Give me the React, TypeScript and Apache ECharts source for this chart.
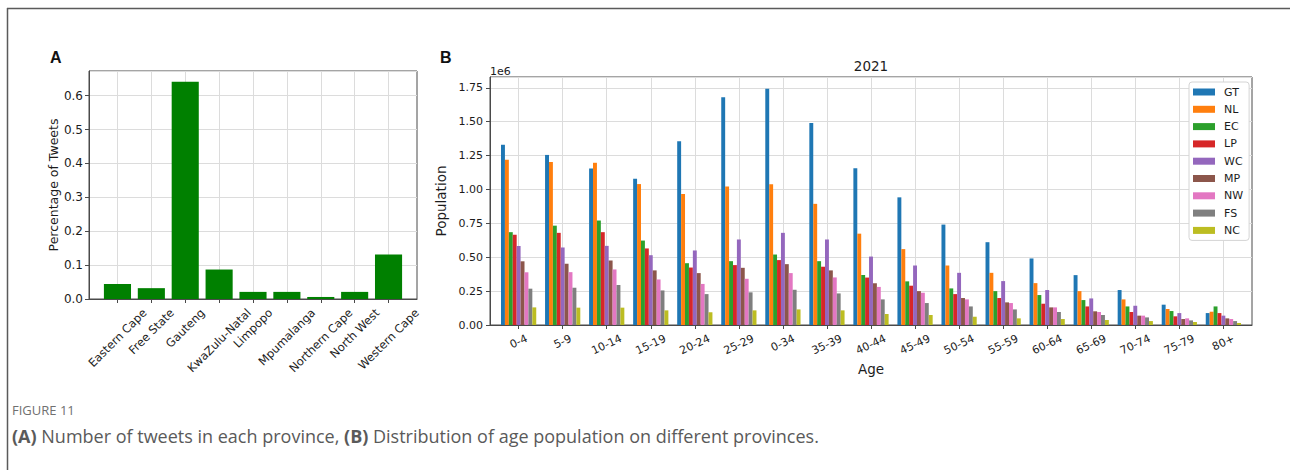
import React, { useEffect, useRef } from "react";
import * as echarts from "echarts";

// Panel A: share of tweets per province
const provinces = [
  "Eastern Cape",
  "Free State",
  "Gauteng",
  "KwaZulu-Natal",
  "Limpopo",
  "Mpumalanga",
  "Northern Cape",
  "North West",
  "Western Cape",
];
const tweetShare = [0.044, 0.032, 0.641, 0.087, 0.021, 0.021, 0.006, 0.021, 0.131];

// Panel B: 2021 population by age group and province
const ageGroups = [
  "0-4", "5-9", "10-14", "15-19", "20-24", "25-29", "0-34", "35-39", "40-44",
  "45-49", "50-54", "55-59", "60-64", "65-69", "70-74", "75-79", "80+",
];
const provinceCodes = ["GT", "NL", "EC", "LP", "WC", "MP", "NW", "FS", "NC"];
const popGT = [1330000, 1255000, 1155000, 1080000, 1355000, 1680000, 1743000, 1490000, 1157000, 942000, 741000, 611000, 491000, 368000, 258000, 150000, 88000];
const popNL = [1220000, 1203000, 1197000, 1040000, 966000, 1022000, 1038000, 894000, 674000, 560000, 439000, 385000, 309000, 250000, 189000, 118000, 98000];
const popEC = [685000, 733000, 771000, 623000, 456000, 471000, 520000, 471000, 369000, 322000, 270000, 250000, 221000, 184000, 137000, 103000, 137000];
const popLP = [666000, 680000, 685000, 565000, 424000, 442000, 479000, 430000, 350000, 290000, 228000, 199000, 157000, 137000, 96000, 64000, 88000];
const popWC = [583000, 572000, 584000, 515000, 550000, 631000, 680000, 631000, 505000, 439000, 385000, 324000, 258000, 196000, 142000, 88000, 69000];
const popMP = [470000, 452000, 476000, 403000, 383000, 422000, 449000, 403000, 308000, 250000, 199000, 167000, 130000, 101000, 69000, 44000, 49000];
const popNW = [389000, 390000, 410000, 336000, 303000, 341000, 383000, 351000, 281000, 238000, 189000, 162000, 130000, 96000, 69000, 49000, 44000];
const popFS = [268000, 275000, 295000, 255000, 228000, 241000, 260000, 233000, 189000, 162000, 137000, 115000, 96000, 74000, 56000, 34000, 29000];
const popNC = [130000, 128000, 128000, 108000, 94000, 108000, 115000, 108000, 81000, 74000, 61000, 49000, 44000, 37000, 29000, 22000, 15000];
const populations = [popGT, popNL, popEC, popLP, popWC, popMP, popNW, popFS, popNC];
const provinceColors = ["#1f77b4", "#ff7f0e", "#2ca02c", "#d62728", "#9467bd", "#8c564b", "#e377c2", "#7f7f7f", "#bcbd22"];

const FONT = "'DejaVu Sans', sans-serif";
const TEXT = "#1c1c1c";
const GRIDLINE = "#dcdcdc";
const SPINE = "#4a4a4a";

const A_MIN = -0.84;
const A_MAX = 8.84;
const B_MIN = -0.65;
const B_MAX = 16.65;

function textWidth(text: string, size: number): number {
  const ctx = document.createElement("canvas").getContext("2d");
  if (!ctx) return text.length * size * 0.6;
  ctx.font = `${size}px 'DejaVu Sans'`;
  return ctx.measureText(text).width;
}

// Rotated tick labels: each label's bounding box is centred under its tick
// with its top edge a fixed distance below the axis line.
function rotatedRich(labels: string[], size: number, deg: number, pad: number, margin: number) {
  const th = (deg * Math.PI) / 180;
  const h = size * 1.17;
  const rich: Record<string, any> = {};
  labels.forEach((t, i) => {
    const L = textWidth(t, size);
    const H = L * Math.sin(th) + h * Math.cos(th);
    const d = Math.max(0, pad + H / 2 - margin);
    rich["t" + i] = {
      fontFamily: FONT,
      fontSize: size,
      color: TEXT,
      lineHeight: h,
      padding: [2 * d * Math.cos(th), 2 * d * Math.sin(th), 0, 0],
    };
  });
  return rich;
}

// Category label for an integer position; blank for the padding slots at the axis ends.
function categoryLabel(labels: string[]) {
  return (v: number) => {
    const i = Math.round(v);
    if (Math.abs(v - i) > 0.01 || i < 0 || i >= labels.length) return "";
    return `{t${i}|${labels[i]}}`;
  };
}

function buildOption() {
  const idxA = provinces.map((_, i) => i);
  const idxB = ageGroups.map((_, i) => i);
  const tickStyle = { show: true, length: 4, lineStyle: { color: SPINE, width: 1 } };
  const lineStyle = { show: true, onZero: false, lineStyle: { color: SPINE, width: 1 } };
  const split = { show: true, lineStyle: { color: GRIDLINE, width: 1 } };

  return {
    animation: false,
    backgroundColor: "#ffffff",
    textStyle: { fontFamily: FONT },
    title: {
      text: "2021",
      left: 871,
      top: 59,
      padding: 0,
      textAlign: "center",
      textStyle: { fontFamily: FONT, fontSize: 13.5, fontWeight: "normal", color: TEXT },
    },
    legend: {
      data: provinceCodes,
      orient: "vertical",
      left: 1189,
      top: 82,
      icon: "rect",
      itemWidth: 22,
      itemHeight: 7,
      itemGap: 3.3,
      padding: [3, 6, 3, 4],
      backgroundColor: "#ffffff",
      borderColor: "#d4d4d4",
      borderWidth: 1,
      borderRadius: 3,
      textStyle: { fontFamily: FONT, fontSize: 11, color: TEXT, lineHeight: 14, padding: [0, 0, 0, 4] },
    },
    grid: [
      { left: 89, top: 71, width: 328, height: 228, show: true, borderColor: SPINE, borderWidth: 1, backgroundColor: "transparent", outerBoundsMode: "none" },
      { left: 490, top: 77, width: 762, height: 248, show: true, borderColor: SPINE, borderWidth: 1, backgroundColor: "transparent", outerBoundsMode: "none" },
    ],
    xAxis: [
      {
        gridIndex: 0,
        type: "value",
        min: A_MIN,
        max: A_MAX,
        axisLine: lineStyle,
        axisTick: { ...tickStyle, customValues: idxA },
        splitLine: split,
        axisLabel: {
          customValues: [A_MIN, ...idxA, A_MAX],
          showMinLabel: true,
          showMaxLabel: true,
          hideOverlap: false,
          rotate: 45,
          align: "center",
          verticalAlign: "middle",
          margin: 6,
          formatter: categoryLabel(provinces),
          rich: rotatedRich(provinces, 11.5, 45, 7, 6),
        },
      },
      {
        gridIndex: 1,
        type: "value",
        min: B_MIN,
        max: B_MAX,
        name: "Age",
        nameLocation: "middle",
        nameGap: 35,
        nameTextStyle: { fontFamily: FONT, fontSize: 13.5, color: TEXT, verticalAlign: "top" },
        axisLine: lineStyle,
        axisTick: { ...tickStyle, customValues: idxB },
        splitLine: split,
        axisLabel: {
          customValues: [B_MIN, ...idxB, B_MAX],
          showMinLabel: true,
          showMaxLabel: true,
          hideOverlap: false,
          rotate: 25,
          align: "center",
          verticalAlign: "middle",
          margin: 6,
          formatter: categoryLabel(ageGroups),
          rich: rotatedRich(ageGroups, 11, 25, 7, 6),
        },
      },
    ],
    yAxis: [
      {
        gridIndex: 0,
        type: "value",
        min: 0,
        max: 0.673,
        interval: 0.1,
        name: "Percentage of Tweets",
        nameLocation: "middle",
        nameGap: 25,
        nameTextStyle: { fontFamily: FONT, fontSize: 12.5, color: TEXT },
        axisLine: lineStyle,
        axisTick: tickStyle,
        splitLine: split,
        axisLabel: {
          showMaxLabel: false,
          margin: 6,
          fontFamily: FONT,
          fontSize: 12,
          color: TEXT,
          formatter: (v: number) => v.toFixed(1),
        },
      },
      {
        gridIndex: 1,
        type: "value",
        min: 0,
        max: 1830000,
        interval: 250000,
        name: "Population",
        nameLocation: "middle",
        nameGap: 35,
        nameTextStyle: { fontFamily: FONT, fontSize: 13.5, color: TEXT },
        axisLine: lineStyle,
        axisTick: tickStyle,
        splitLine: split,
        axisLabel: {
          showMaxLabel: false,
          margin: 7,
          fontFamily: FONT,
          fontSize: 11,
          color: TEXT,
          formatter: (v: number) => (v / 1e6).toFixed(2),
        },
      },
    ],
    series: [
      {
        type: "bar",
        xAxisIndex: 0,
        yAxisIndex: 0,
        barWidth: "80%",
        itemStyle: { color: "#008000" },
        data: tweetShare.map((v, i) => [i, v]),
      },
      ...provinceCodes.map((code, s) => ({
        name: code,
        type: "bar",
        xAxisIndex: 1,
        yAxisIndex: 1,
        barGap: "0%",
        barCategoryGap: "20%",
        itemStyle: { color: provinceColors[s] },
        data: populations[s].map((v, i) => [i, v]),
      })),
    ],
    graphic: [
      { type: "line", shape: { x1: 7, y1: 8.5, x2: 1290, y2: 8.5 }, style: { stroke: "#5a5a5a", lineWidth: 1.5 } },
      { type: "line", shape: { x1: 7.5, y1: 8, x2: 7.5, y2: 470 }, style: { stroke: "#5a5a5a", lineWidth: 1.5 } },
      {
        type: "text",
        x: 50,
        y: 57,
        style: { text: "A", font: "bold 16px 'Liberation Sans', sans-serif", fill: "#111", textVerticalAlign: "middle" },
      },
      {
        type: "text",
        x: 440,
        y: 57,
        style: { text: "B", font: "bold 16px 'Liberation Sans', sans-serif", fill: "#111", textVerticalAlign: "middle" },
      },
      {
        type: "text",
        x: 490,
        y: 71,
        style: { text: "1e6", font: "11px 'DejaVu Sans', sans-serif", fill: TEXT, textVerticalAlign: "middle" },
      },
      {
        type: "text",
        x: 12,
        y: 410,
        style: { text: "FIGURE 11", font: "13px 'Open Sans', sans-serif", fill: "#707070", textVerticalAlign: "middle" },
      },
      {
        type: "text",
        x: 12,
        y: 436,
        style: {
          text: "{b|(A)} Number of tweets in each province, {b|(B)} Distribution of age population on different provinces.",
          font: "18px 'Open Sans', sans-serif",
          fill: "#5a5a5a",
          textVerticalAlign: "middle",
          rich: {
            b: { fontFamily: "'Open Sans', sans-serif", fontSize: 18, fontWeight: "bold", fill: "#5a5a5a", color: "#5a5a5a" },
          },
        },
      },
    ],
  };
}

export default function App() {
  const ref = useRef<HTMLDivElement>(null);
  useEffect(() => {
    if (!ref.current) return;
    const chart = echarts.init(ref.current, undefined, { renderer: "svg" });
    chart.setOption(buildOption() as any);
    return () => chart.dispose();
  }, []);
  return (
    <div
      ref={ref}
      style={{ position: "fixed", left: 0, top: 0, width: 1290, height: 470, background: "#ffffff" }}
    />
  );
}
